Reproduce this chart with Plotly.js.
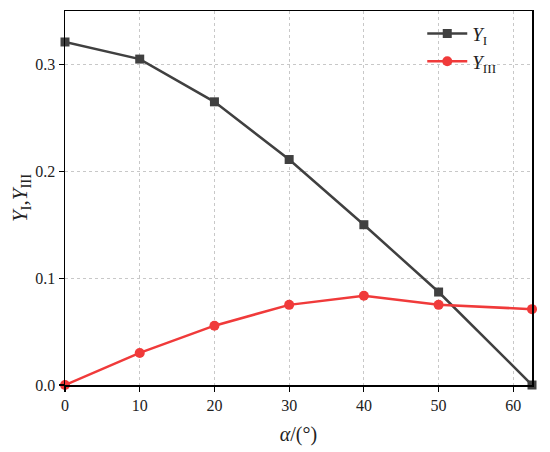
<!DOCTYPE html>
<html>
<head>
<meta charset="utf-8">
<script src="https://cdn.plot.ly/plotly-3.0.1.min.js"></script>
<style>html,body{margin:0;padding:0;background:#fff}#chart{width:550px;height:452px}</style>
</head>
<body>
<div id="chart"></div>
<script>
var alpha = [0, 10, 20, 30, 40, 50, 62.5];
var yI = [0.321, 0.305, 0.265, 0.211, 0.150, 0.087, 0.0];
var yIII = [0.0, 0.030, 0.0555, 0.075, 0.0835, 0.075, 0.071];
var xTicks = [0, 10, 20, 30, 40, 50, 60];
var yTicks = [0, 0.1, 0.2, 0.3];
var yTickText = ['0.0', '0.1', '0.2', '0.3'];

var serif = 'Liberation Serif, DejaVu Serif, serif';
var traces = [
  {x: alpha, y: yI, type: 'scatter', mode: 'lines+markers', name: '<i>Y</i><sub>I</sub>',
   line: {color: '#404040', width: 2.5}, marker: {symbol: 'square', size: 9, color: '#404040'}, cliponaxis: false},
  {x: alpha, y: yIII, type: 'scatter', mode: 'lines+markers', name: '<i>Y</i><sub>III</sub>',
   line: {color: '#f03a3a', width: 2.5}, marker: {symbol: 'circle', size: 10, color: '#f03a3a'}, cliponaxis: false}
];
var axisCommon = {
  showline: true, linecolor: '#000', linewidth: 1.5, mirror: true,
  ticks: 'outside', ticklen: 5, tickcolor: '#000', tickwidth: 1.2,
  showgrid: true, gridcolor: '#c8c8c8', griddash: 'dot', gridwidth: 1,
  zeroline: false, tickfont: {family: serif, size: 16, color: '#222'}
};
var layout = {
  width: 550, height: 452,
  margin: {l: 65, r: 18, t: 11, b: 67},
  paper_bgcolor: '#fff', plot_bgcolor: '#fff',
  showlegend: true,
  legend: {x: 0.765, y: 0.99, xanchor: 'left', yanchor: 'top', bgcolor: 'rgba(0,0,0,0)',
    itemwidth: 40, font: {family: serif, size: 19, color: '#222'}, tracegroupgap: 0},
  xaxis: Object.assign({}, axisCommon, {range: [0, 62.5], tickvals: xTicks,
    title: {text: '<i>α</i>/(°)', font: {family: serif, size: 20, color: '#222'}, standoff: 14}}),
  yaxis: Object.assign({}, axisCommon, {range: [0, 0.35], tickvals: yTicks, ticktext: yTickText, automargin: true,
    title: {text: '<i>Y</i><sub>I</sub>,<i>Y</i><sub>III</sub>', font: {family: serif, size: 21, color: '#222'}, standoff: 2}})
};
Plotly.newPlot('chart', traces, layout, {displayModeBar: false, staticPlot: true});
</script>
</body>
</html>
